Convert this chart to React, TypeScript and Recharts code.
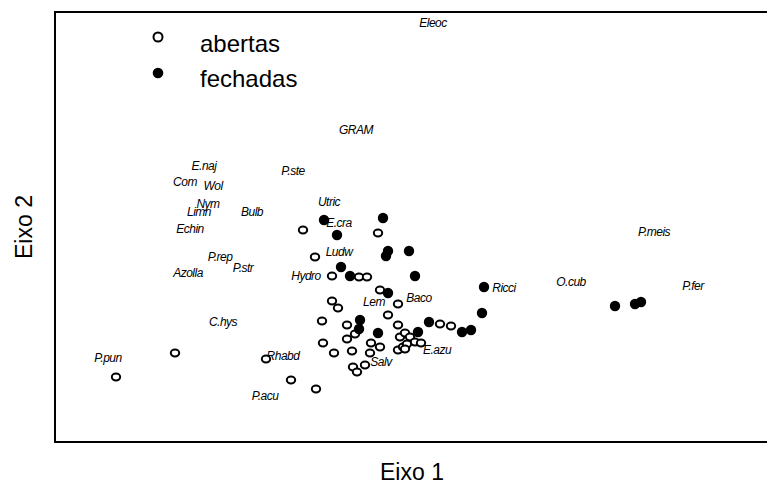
import { ScatterChart, Scatter, XAxis, YAxis, ReferenceArea } from 'recharts';

// site scores, "abertas" (open circles)
const abertasX = [-1.09, -0.34, -0.97, -0.8, -0.53, -0.45, -0.32, -0.14, -0.8, -0.74, -0.24, -0.9, -0.65, -0.57, -0.65, -0.14, -0.89, -0.78, -0.6, -0.41, -0.32, -0.42, -0.12, -0.07, -0.02, -0.14, -0.09, -0.05, -0.07, 0.03, 0.09, 0.28, 0.39, -0.59, -0.55, -0.47, -0.96, -2.37, -2.96, -1.46, -1.21];
const abertasY = [-0.03, -0.06, -0.3, -0.49, -0.5, -0.5, -0.63, -0.77, -0.74, -0.81, -0.88, -0.94, -0.98, -1.07, -1.12, -0.98, -1.16, -1.26, -1.24, -1.16, -1.2, -1.26, -1.1, -1.06, -1.1, -1.23, -1.2, -1.17, -1.22, -1.15, -1.16, -0.97, -0.99, -1.4, -1.45, -1.38, -1.62, -1.26, -1.5, -1.32, -1.53];

// site scores, "fechadas" (filled circles)
const fechadasX = [-0.88, -0.29, -0.75, -0.24, -0.26, -0.03, -0.71, -0.62, 0.03, -0.24, 0.72, 0.7, -0.52, -0.53, -0.34, 0.17, 0.06, 0.5, 0.59, 2.03, 2.23, 2.29];
const fechadasY = [0.07, 0.09, -0.08, -0.24, -0.29, -0.24, -0.4, -0.49, -0.49, -0.66, -0.6, -0.86, -0.93, -1.02, -1.06, -0.95, -1.05, -1.05, -1.03, -0.79, -0.77, -0.75];

// species scores
const species = ['Eleoc', 'GRAM', 'E.naj', 'P.ste', 'Com', 'Wol', 'Nym', 'Limn', 'Bulb', 'Utric', 'E.cra', 'Echin', 'Ludw', 'P.meis', 'P.rep', 'P.str', 'Azolla', 'Hydro', 'O.cub', 'Ricci', 'P.fer', 'Lem', 'Baco', 'C.hys', 'E.azu', 'P.pun', 'Rhabd', 'Salv', 'P.acu'];
const speciesX = [0.21, -0.56, -2.08, -1.19, -2.27, -1.99, -2.04, -2.13, -1.6, -0.83, -0.73, -2.22, -0.73, 2.42, -1.92, -1.69, -2.24, -1.06, 1.59, 0.92, 2.81, -0.38, 0.07, -1.89, 0.25, -3.04, -1.29, -0.31, -1.47];
const speciesY = [2.04, 0.97, 0.61, 0.56, 0.45, 0.41, 0.23, 0.15, 0.15, 0.25, 0.04, -0.02, -0.25, -0.05, -0.3, -0.41, -0.46, -0.49, -0.55, -0.61, -0.59, -0.75, -0.71, -0.95, -1.23, -1.31, -1.29, -1.35, -1.69];

const X_DOMAIN: [number, number] = [-3.57, 3.58];
const Y_DOMAIN: [number, number] = [-2.15, 2.15];

const FONT = '"Liberation Sans", Arial, sans-serif';

const abertas = abertasX.map((x, i) => ({ x, y: abertasY[i] }));
const fechadas = fechadasX.map((x, i) => ({ x, y: fechadasY[i] }));
const speciesData = species.map((name, i) => ({ x: speciesX[i], y: speciesY[i], name }));

const OpenDot = (props: any) => (
  <ellipse cx={props.cx} cy={props.cy} rx={4.2} ry={3.4} fill="#fff" stroke="#000" strokeWidth={2} />
);

const FilledDot = (props: any) => (
  <ellipse cx={props.cx} cy={props.cy} rx={5.2} ry={5.2} fill="#000" />
);

const SpeciesLabel = (props: any) => {
  const name = props.payload?.name ?? props.name;
  return (
    <text
      x={props.cx}
      y={props.cy + 4}
      textAnchor="middle"
      fontFamily={FONT}
      fontStyle="italic"
      fontSize={12}
      letterSpacing={-0.5}
      fill="#000"
    >
      {name}
    </text>
  );
};

export default function App() {
  return (
    <div
      style={{
        position: 'absolute',
        left: 0,
        top: 0,
        width: 767,
        height: 487,
        overflow: 'hidden',
        background: '#fff',
      }}
    >
      <ScatterChart width={790} height={487} margin={{ top: 12, right: 20, bottom: 45, left: 55 }}>
        <XAxis type="number" dataKey="x" domain={X_DOMAIN} hide />
        <YAxis type="number" dataKey="y" domain={Y_DOMAIN} hide />
        <ReferenceArea
          x1={X_DOMAIN[0]}
          x2={X_DOMAIN[1]}
          y1={Y_DOMAIN[0]}
          y2={Y_DOMAIN[1]}
          fill="none"
          fillOpacity={0}
          stroke="#000"
          strokeWidth={2}
        />
        <Scatter data={speciesData} shape={SpeciesLabel} isAnimationActive={false} />
        <Scatter data={abertas} shape={OpenDot} isAnimationActive={false} />
        <Scatter data={fechadas} shape={FilledDot} isAnimationActive={false} />
      </ScatterChart>

      {/* legend and axis titles */}
      <svg
        width={767}
        height={487}
        style={{ position: 'absolute', left: 0, top: 0, pointerEvents: 'none' }}
      >
        <circle cx={158} cy={37} r={4.5} fill="#fff" stroke="#000" strokeWidth={2} />
        <circle cx={158} cy={73} r={5.3} fill="#000" />
        <text x={200} y={52} fontFamily={FONT} fontSize={24} fill="#000">abertas</text>
        <text x={200} y={87} fontFamily={FONT} fontSize={24} fill="#000">fechadas</text>
        <text x={412} y={480} textAnchor="middle" fontFamily={FONT} fontSize={23} fill="#000">Eixo 1</text>
        <text
          x={32}
          y={227}
          textAnchor="middle"
          transform="rotate(-90 32 227)"
          fontFamily={FONT}
          fontSize={23}
          fill="#000"
        >
          Eixo 2
        </text>
      </svg>
    </div>
  );
}
